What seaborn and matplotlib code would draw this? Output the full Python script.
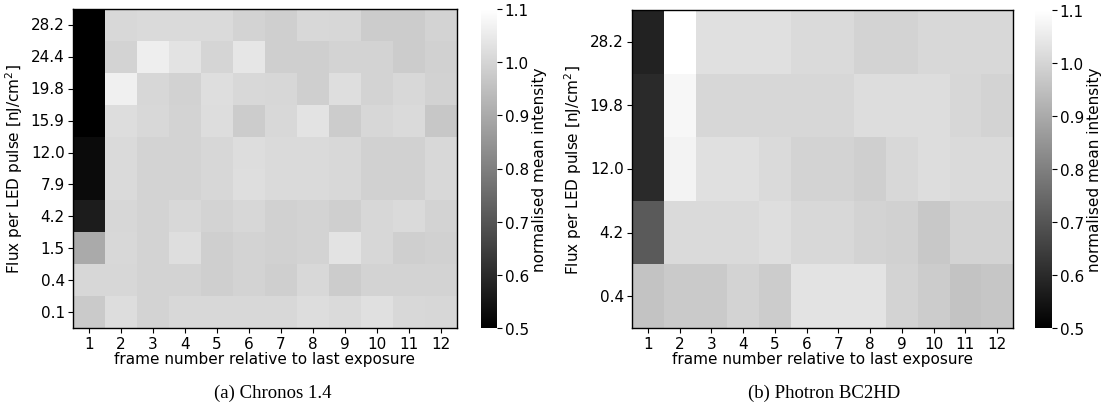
import numpy as np
import pandas as pd
import matplotlib
matplotlib.use("Agg")
import matplotlib.pyplot as plt
import seaborn as sns

# frame numbers (columns) and flux levels (rows, top to bottom)
frames = list(range(1, 13))
flux_chronos = ["28.2", "24.4", "19.8", "15.9", "12.0", "7.9", "4.2", "1.5", "0.4", "0.1"]
flux_photron = ["28.2", "19.8", "12.0", "4.2", "0.4"]

# normalised mean intensity, Chronos 1.4
chronos = [
    [0.48, 1.008, 1.013, 1.013, 1.013, 0.996, 0.987, 1.008, 1.004, 0.980, 0.980, 0.995],
    [0.48, 0.996, 1.060, 1.034, 1.000, 1.041, 0.987, 0.987, 0.996, 0.996, 0.980, 0.990],
    [0.48, 1.063, 1.004, 0.994, 1.022, 1.008, 1.004, 0.987, 1.022, 0.996, 1.008, 0.994],
    [0.48, 1.018, 1.008, 0.996, 1.018, 0.980, 1.008, 1.034, 0.980, 1.004, 1.013, 0.968],
    [0.528, 1.013, 0.996, 0.996, 1.004, 1.018, 1.013, 1.013, 1.008, 0.990, 0.990, 1.008],
    [0.528, 1.013, 0.996, 0.996, 1.004, 1.022, 1.013, 1.013, 1.008, 0.990, 0.990, 1.008],
    [0.566, 1.004, 0.996, 1.008, 0.996, 1.004, 0.990, 0.996, 0.987, 1.004, 1.013, 0.996],
    [0.900, 1.008, 0.996, 1.022, 0.987, 0.996, 0.990, 0.996, 1.034, 1.004, 0.987, 0.990],
    [1.004, 1.004, 0.996, 0.996, 0.987, 0.996, 0.987, 1.008, 0.980, 0.996, 0.996, 0.996],
    [0.975, 1.018, 0.996, 1.008, 1.008, 1.008, 1.008, 1.018, 1.013, 1.027, 1.008, 1.004],
]

# normalised mean intensity, Photron BC2HD
photron = [
    [0.580, 1.100, 1.027, 1.027, 1.027, 1.013, 1.013, 0.996, 0.996, 1.008, 1.008, 1.008],
    [0.599, 1.081, 1.004, 1.004, 1.004, 1.004, 1.004, 1.018, 1.018, 1.018, 1.004, 0.996],
    [0.599, 1.070, 1.027, 1.027, 1.013, 0.996, 0.996, 0.987, 1.008, 1.018, 1.013, 1.013],
    [0.712, 1.013, 1.013, 1.013, 1.022, 1.008, 1.008, 0.996, 0.990, 0.971, 0.996, 0.996],
    [0.959, 0.975, 0.975, 0.996, 0.980, 1.034, 1.034, 1.034, 0.996, 0.980, 0.959, 0.966],
]

df_a = pd.DataFrame(chronos, index=flux_chronos, columns=frames)
df_b = pd.DataFrame(photron, index=flux_photron, columns=frames)

plt.rcParams["font.family"] = "DejaVu Sans"
fs = 11

W, H = 1105, 410
fig = plt.figure(figsize=(W / 100, H / 100), dpi=100)

panels = [
    (df_a, [73, 81, 384, 319], [481, 81, 16, 319], "(a) Chronos 1.4", 273),
    (df_b, [632, 81, 381, 318], [1035, 81, 17, 318], "(b) Photron BC2HD", 824),
]

for data, box, cbox, caption, cx in panels:
    ax = fig.add_axes([box[0] / W, box[1] / H, box[2] / W, box[3] / H])
    cax = fig.add_axes([cbox[0] / W, cbox[1] / H, cbox[2] / W, cbox[3] / H])
    sns.heatmap(data, ax=ax, cbar_ax=cax, cmap="gray", vmin=0.5, vmax=1.1,
                cbar_kws={"ticks": [0.5, 0.6, 0.7, 0.8, 0.9, 1.0, 1.1]})
    for s in ax.spines.values():
        s.set_visible(True)
        s.set_linewidth(1.0)
    ax.tick_params(length=3.5, width=0.8, labelsize=fs, pad=2.5)
    ax.set_yticklabels(data.index, rotation=0)
    ax.set_xticklabels(frames, rotation=0)
    ax.set_xlabel("frame number relative to last exposure", fontsize=fs, labelpad=0)
    ax.set_ylabel("Flux per LED pulse [nJ/cm$^2$]", fontsize=fs, labelpad=4)
    cax.tick_params(length=3.5, width=0.8, labelsize=fs, pad=2)
    cax.set_ylabel("normalised mean intensity", fontsize=fs, labelpad=2)
    fig.text(cx / W, 1 - 393 / H, caption, ha="center", va="center",
             family="Liberation Serif", fontsize=13.5)

fig.savefig("out.png", dpi=100)
